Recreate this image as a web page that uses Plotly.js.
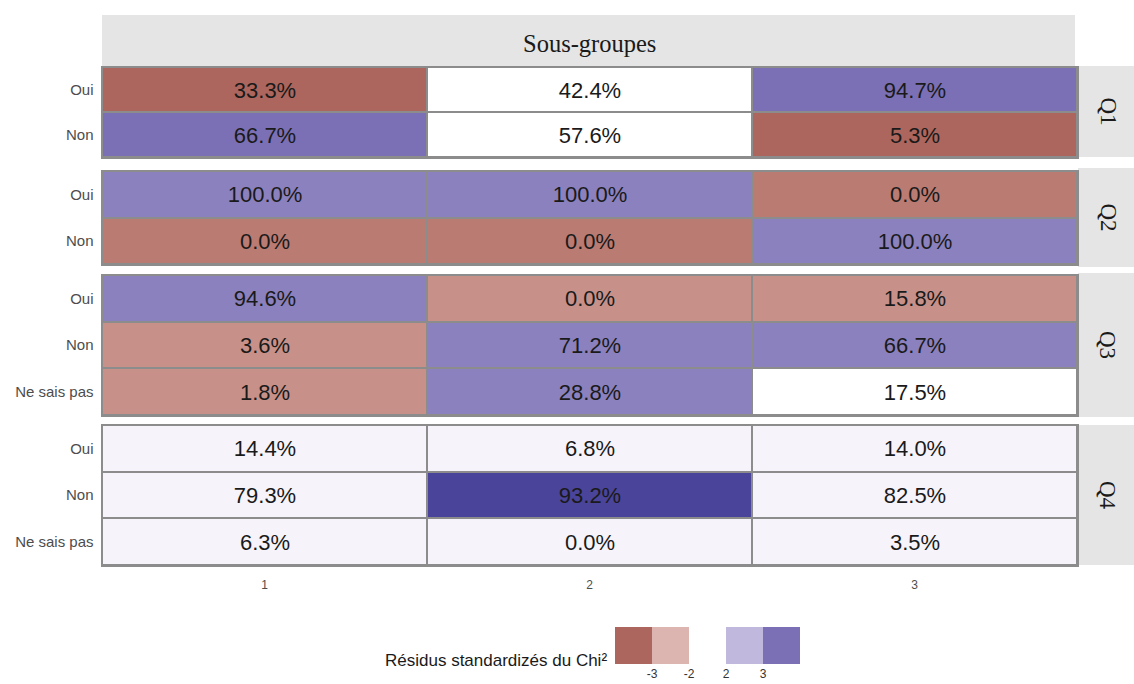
<!DOCTYPE html>
<html>
<head>
<meta charset="utf-8">
<script src="https://cdn.plot.ly/plotly-3.0.1.min.js"></script>
<style>html,body{margin:0;padding:0;background:#fff;}#chart{width:1134px;height:684px;}</style>
</head>
<body>
<div id="chart"></div>
<script>
// ---- data ----
const columns = ['1', '2', '3'];
const questions = ['Q1', 'Q2', 'Q3', 'Q4'];
const rowsQ1 = ['Oui', 'Non'];
const rowsQ2 = ['Oui', 'Non'];
const rowsQ3 = ['Oui', 'Non', 'Ne sais pas'];
const rowsQ4 = ['Oui', 'Non', 'Ne sais pas'];
const pctQ1 = [[33.3, 42.4, 94.7], [66.7, 57.6, 5.3]];
const pctQ2 = [[100.0, 100.0, 0.0], [0.0, 0.0, 100.0]];
const pctQ3 = [[94.6, 0.0, 15.8], [3.6, 71.2, 66.7], [1.8, 28.8, 17.5]];
const pctQ4 = [[14.4, 6.8, 14.0], [79.3, 93.2, 82.5], [6.3, 0.0, 3.5]];
// standardized residuals
const residQ1 = [[-3.4, 0, 3.4], [3.4, 0, -3.4]];
const residQ2 = [[2.77, 2.77, -2.73], [-2.73, -2.73, 2.77]];
const residQ3 = [[2.77, -2.46, -2.46], [-2.46, 2.77, 2.77], [-2.46, 2.77, 0]];
const residQ4 = [[0.3, 0.3, 0.3], [0.3, 6, 0.3], [0.3, 0.3, 0.3]];
const legendBins = [-3, -2, 0, 2, 3];
const legendLabels = ['-3', '-2', '2', '3'];
const headerLabel = 'Sous-groupes';
const legendTitle = 'Résidus standardizés du Chi²';

// ---- layout helpers ----
const W = 1134, H = 684;
const ML = 102, MR = 57, MT = 15, MB = 4;
const PW = W - ML - MR, PH = H - MT - MB;
const fy = px => (H - MB - px) / PH;
const fx = px => (px - ML) / PW;
const panelsPx = [[67, 157], [171, 264], [275, 415], [425, 565]];
const stripsPx = [[66, 157], [168, 267], [273, 417], [425, 565]];
const gridCol = '#8c8c8c';
const sans = 'Liberation Sans, Arial, sans-serif';
const serif = 'Liberation Serif, Times New Roman, serif';

const panels = [
  {rows: rowsQ1, pct: pctQ1, res: residQ1},
  {rows: rowsQ2, pct: pctQ2, res: residQ2},
  {rows: rowsQ3, pct: pctQ3, res: residQ3},
  {rows: rowsQ4, pct: pctQ4, res: residQ4}
];

const data = [];
const layout = {
  width: W, height: H,
  margin: {l: ML, r: MR, t: MT, b: MB},
  paper_bgcolor: '#ffffff',
  plot_bgcolor: gridCol,
  showlegend: false,
  font: {family: sans, color: '#4d4d4d'},
  coloraxis: {
    cmin: -4, cmax: 6, showscale: false,
    colorscale: [
      [0.0, '#AD665D'], [0.1, '#AD665D'], [0.2, '#DDB5B0'], [0.4, '#FFFFFF'],
      [0.6, '#C0B8DD'], [0.7, '#7B70B5'], [0.8, '#7B70B5'], [1.0, '#4A449A']
    ]
  },
  shapes: [],
  annotations: []
};

panels.forEach((p, i) => {
  const n = 4 - i; // Q4 -> axis 1 (bottom)
  const xa = n === 1 ? 'x' : 'x' + n;
  const ya = n === 1 ? 'y' : 'y' + n;
  data.push({
    type: 'heatmap',
    x: columns, y: p.rows, z: p.res,
    text: p.pct.map(r => r.map(v => v.toFixed(1) + '%')),
    texttemplate: '%{text}',
    textfont: {family: sans, size: 22, color: '#1a1a1a'},
    coloraxis: 'coloraxis',
    xgap: 2, ygap: 2,
    hoverinfo: 'skip',
    xaxis: xa, yaxis: ya
  });
  const xk = n === 1 ? 'xaxis' : 'xaxis' + n;
  const yk = n === 1 ? 'yaxis' : 'yaxis' + n;
  layout[xk] = {
    domain: [0, 1], anchor: ya, type: 'category',
    showgrid: false, zeroline: false, ticks: '',
    showticklabels: n === 1,
    tickfont: {size: 12, color: '#4d4d4d', family: sans},
    ticklabelstandoff: 8,
    showline: true, mirror: true, linecolor: gridCol, linewidth: 1.5,
    fixedrange: true
  };
  if (n !== 1) layout[xk].matches = 'x';
  const [top, bot] = panelsPx[i];
  layout[yk] = {
    domain: [fy(bot), fy(top)], anchor: xa, type: 'category',
    autorange: 'reversed',
    showgrid: false, zeroline: false, ticks: '',
    tickfont: {size: 15, color: '#4d4d4d', family: sans},
    ticklabelstandoff: 4,
    showline: true, mirror: true, linecolor: gridCol, linewidth: 1.5,
    fixedrange: true
  };
  const [st, sb] = stripsPx[i];
  layout.shapes.push({
    type: 'rect', xref: 'paper', yref: 'paper',
    x0: fx(1078), x1: fx(1140), y0: fy(sb), y1: fy(st),
    fillcolor: '#e5e5e5', line: {width: 0}, layer: 'below'
  });
  layout.annotations.push({
    xref: 'paper', yref: 'paper', x: fx(1108), y: fy((st + sb) / 2),
    text: questions[i], textangle: 90, showarrow: false,
    font: {family: serif, size: 23, color: '#1a1a1a'},
    xanchor: 'center', yanchor: 'middle'
  });
});

// header strip
layout.shapes.push({
  type: 'rect', xref: 'paper', yref: 'paper',
  x0: 0, x1: fx(1075), y0: fy(67), y1: fy(15),
  fillcolor: '#e5e5e5', line: {width: 0}, layer: 'below'
});
layout.annotations.push({
  xref: 'paper', yref: 'paper', x: fx(589), y: fy(43),
  text: headerLabel, showarrow: false,
  font: {family: serif, size: 24.5, color: '#1a1a1a'},
  xanchor: 'center', yanchor: 'middle'
});

// legend (binned key)
data.push({
  type: 'heatmap',
  x: legendBins.map((_, i) => i), y: [0], z: [legendBins],
  coloraxis: 'coloraxis', hoverinfo: 'skip',
  xaxis: 'x5', yaxis: 'y5'
});
layout.xaxis5 = {
  domain: [fx(615), fx(800)], anchor: 'y5', range: [-0.5, legendBins.length - 0.5],
  showgrid: false, zeroline: false, ticks: '', showline: false,
  tickmode: 'array', tickvals: [0.5, 1.5, 2.5, 3.5], ticktext: legendLabels,
  tickfont: {size: 12, color: '#333333', family: sans},
  ticklabelstandoff: 1, fixedrange: true
};
layout.yaxis5 = {
  domain: [fy(664), fy(627)], anchor: 'x5', range: [-0.5, 0.5],
  visible: false, fixedrange: true
};
layout.annotations.push({
  xref: 'paper', yref: 'paper', x: fx(609), y: fy(660),
  text: legendTitle, showarrow: false,
  font: {family: sans, size: 17, color: '#1a1a1a'},
  xanchor: 'right', yanchor: 'middle'
});

Plotly.newPlot('chart', data, layout, {displayModeBar: false, staticPlot: true});
</script>
</body>
</html>
